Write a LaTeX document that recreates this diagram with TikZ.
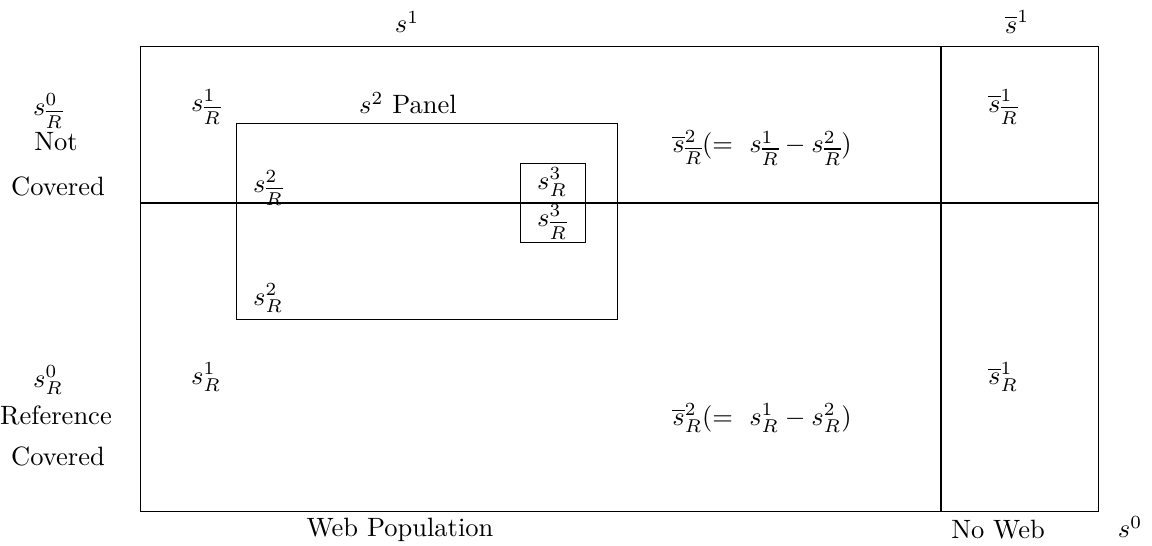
\documentclass[tikz,border=0pt]{standalone}
\begin{document}
\begin{tikzpicture}[x=0.3774pt,y=-0.3774pt,
  lbl/.style={inner sep=0pt,anchor=center},
  frame/.style={draw,line width=0.4pt}]
\useasboundingbox (0,0) rectangle (1152,546);
% boxes
\node[frame,minimum width=958*0.3774pt,minimum height=465*0.3774pt,inner sep=0pt,anchor=north west] (outer) at (140,46) {};
\coordinate (hl) at (140,203);
\coordinate (hr) at (1098,203);
\coordinate (vt) at (941,46);
\coordinate (vb) at (941,511);
\draw[line width=0.4pt] (hl) -- (hr);
\draw[line width=0.4pt] (vt) -- (vb);
\node[frame,minimum width=381*0.3774pt,minimum height=196*0.3774pt,inner sep=0pt,anchor=north west] (panel) at (236,123) {};
\node[frame,minimum width=65*0.3774pt,minimum height=79*0.3774pt,inner sep=0pt,anchor=north west] (small) at (520,163) {};
% labels
\node[lbl] (t1) at (407,22) {$s^1$};
\node[lbl] (t2) at (1017,22) {$\overline{s}^1$};
\node[lbl] (l1) at (48,111) {$s^0_{\overline{R}}$};
\node[lbl] (l2) at (56,142) {Not};
\node[lbl] (l3) at (58,186) {Covered};
\node[lbl] (l4) at (48,380) {$s^0_R$};
\node[lbl] (l5) at (56,415) {Reference};
\node[lbl] (l6) at (58,456) {Covered};
\node[lbl] (a1) at (206,107) {$s^1_{\overline{R}}$};
\node[lbl] (a2) at (408,103) {$s^2$ Panel};
\node[lbl] (a3) at (268,188) {$s^2_{\overline{R}}$};
\node[lbl] (a4) at (552,182) {$s^3_R$};
\node[lbl] (a5) at (552,222) {$s^3_{\overline{R}}$};
\node[lbl] (a6) at (762,148) {$\overline{s}^2_{\overline{R}}(=\ s^1_{\overline{R}}-s^2_{\overline{R}})$};
\node[lbl] (a7) at (1003,107) {$\overline{s}^1_{\overline{R}}$};
\node[lbl] (b1) at (268,298) {$s^2_R$};
\node[lbl] (b2) at (206,377) {$s^1_R$};
\node[lbl] (b3) at (762,418) {$\overline{s}^2_R(=\ s^1_R-s^2_R)$};
\node[lbl] (b4) at (1003,377) {$\overline{s}^1_R$};
\node[lbl] (c1) at (400,530) {Web Population};
\node[lbl] (c2) at (998,530) {No Web};
\node[lbl] (c3) at (1130,527) {$s^0$};
\end{tikzpicture}
\end{document}
